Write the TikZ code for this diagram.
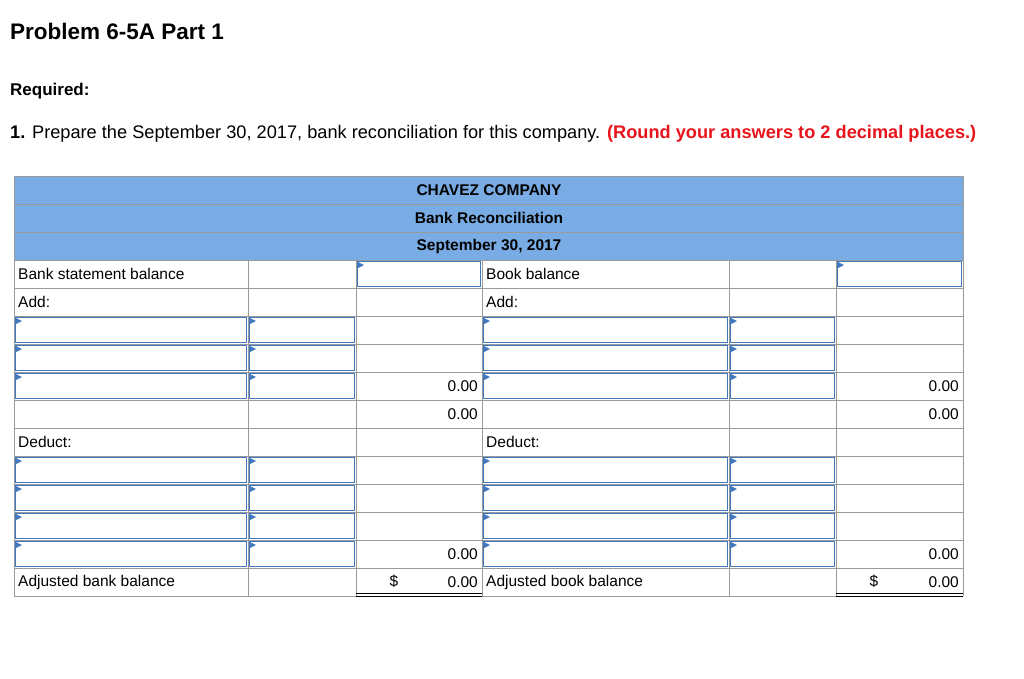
\documentclass[tikz,border=0pt]{standalone}
\usepackage{fontspec}
\setmainfont{Liberation Sans}
\definecolor{hdr}{HTML}{79ACE4}
\definecolor{grid}{HTML}{9A9A9A}
\definecolor{inb}{HTML}{3F78BE}
\definecolor{redt}{HTML}{E8141B}
\begin{document}
\begin{tikzpicture}[x=1pt,y=-1pt,
  txt/.style={inner sep=0pt,anchor=west,font=\fontsize{15.5}{18}\selectfont},
  num/.style={inner sep=0pt,anchor=east,font=\fontsize{15.5}{18}\selectfont},
  hd/.style={inner sep=0pt,font=\fontsize{15.5}{18}\selectfont\bfseries},
  gridline/.style={draw=grid,line width=0.9pt},
  inbox/.style={draw=inb,line width=1.6pt}]
\useasboundingbox (0,0) rectangle (1024,678);
\node[anchor=west,inner sep=0pt,font=\fontsize{22.5}{26}\selectfont\bfseries] (title) at (10,31) {Problem 6-5A Part 1};
\node[anchor=west,inner sep=0pt,font=\fontsize{17}{20}\selectfont\bfseries] (req) at (10,91) {Required:};
\node[anchor=west,inner sep=0pt,font=\fontsize{18.2}{21}\selectfont] (q) at (10,134) {\textbf{1.} Prepare the September 30, 2017, bank reconciliation for this company. \textcolor{redt}{\textbf{(Round your answers to 2 decimal places.)}}};
% header
\fill[hdr] (14,176) rectangle (963,260);
\draw[gridline] (14,176) rectangle (963,260) (14,204) -- (963,204) (14,232) -- (963,232);
\node[hd] (h1) at (489,190) {CHAVEZ COMPANY};
\node[hd] (h2) at (489,218) {Bank Reconciliation};
\node[hd] (h3) at (489,246) {September 30, 2017};
% grid
\foreach \y in {288,316,...,596} \draw[gridline] (14,\y) -- (963,\y);
\foreach \x in {14,248,356,482,729,836,963} \draw[gridline] (\x,260) -- (\x,596);
% double lines
\foreach \a/\b in {356/482,836/963} {\draw[black,line width=0.8pt] (\a,593) -- (\b,593) (\a,596.5) -- (\b,596.5);}
% input boxes
\newcommand\inp[3]{\draw[inbox] (#1+1.5,#3+1.5) rectangle (#2-1.5,#3+26.5);
  \fill[inb] (#1+2,#3+2) -- (#1+8,#3+5) -- (#1+2,#3+8) -- cycle;}
\inp{356}{482}{260}\inp{836}{963}{260}
\foreach \y in {316,344,372,456,484,512,540} {\inp{14}{248}{\y}\inp{248}{356}{\y}\inp{482}{729}{\y}\inp{729}{836}{\y}}
% texts
\node[txt] (t1) at (18,274) {Bank statement balance};
\node[txt] (t2) at (18,302) {Add:};
\node[txt] (t3) at (486,274) {Book balance};
\node[txt] (t4) at (486,302) {Add:};
\node[txt] (t5) at (18,442) {Deduct:};
\node[txt] (t6) at (486,442) {Deduct:};
\node[txt] (t7) at (18,582) {Adjusted bank balance};
\node[txt] (t8) at (486,582) {Adjusted book balance};
\foreach \x in {478,959} {
 \node[num] at (\x,386) {0.00};
 \node[num] at (\x,414) {0.00};
 \node[num] at (\x,554) {0.00};
 \node[num] at (\x,582) {0.00};}
\node[txt,anchor=center] (d1) at (394,581) {\$};
\node[txt,anchor=center] (d2) at (874,581) {\$};
\end{tikzpicture}
\end{document}
